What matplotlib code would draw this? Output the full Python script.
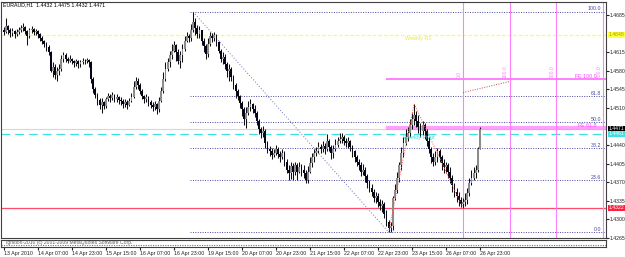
import numpy as np
import matplotlib.pyplot as plt
from matplotlib.transforms import blended_transform_factory

# EURAUD H1, 13 Apr 2010 15:00 .. 26 Apr 2010 23:00, prices in points (1e-4)
first_open = 14656
close_pts = [
    14653, 14664, 14656, 14651, 14655, 14649, 14653, 14656, 14660, 14662,
    14655, 14645, 14656, 14658, 14653, 14655, 14649, 14641, 14636, 14630,
    14624, 14615, 14580, 14588, 14573, 14580, 14584, 14603, 14609, 14603,
    14599, 14603, 14598, 14594, 14598, 14592, 14596, 14599, 14598, 14601,
    14596, 14565, 14546, 14535, 14525, 14516, 14522, 14514, 14527, 14533,
    14529, 14535, 14527, 14531, 14525, 14523, 14518, 14522, 14516, 14523,
    14531, 14550, 14561, 14554, 14542, 14533, 14527, 14531, 14522, 14516,
    14512, 14518, 14508, 14523, 14542, 14565, 14584, 14596, 14609, 14618,
    14628, 14615, 14599, 14609, 14622, 14637, 14645, 14641, 14656, 14672,
    14660, 14649, 14656, 14637, 14626, 14611, 14630, 14645, 14641, 14647,
    14634, 14618, 14603, 14607, 14592, 14580, 14584, 14569, 14554, 14542,
    14533, 14520, 14508, 14489, 14501, 14512, 14518, 14508, 14501, 14485,
    14470, 14463, 14466, 14444, 14432, 14428, 14421, 14425, 14432, 14423,
    14417, 14425, 14409, 14394, 14387, 14400, 14390, 14402, 14390, 14398,
    14394, 14387, 14375, 14390, 14406, 14417, 14425, 14428, 14436, 14432,
    14438, 14432, 14447, 14436, 14425, 14432, 14440, 14447, 14451, 14455,
    14447, 14444, 14447, 14436, 14428, 14417, 14409, 14402, 14390, 14394,
    14381, 14368, 14360, 14352, 14341, 14345, 14333, 14326, 14330, 14310,
    14295, 14284, 14288, 14341, 14356, 14379, 14402, 14425, 14444, 14455,
    14463, 14478, 14489, 14497, 14485, 14474, 14466, 14478, 14466, 14447,
    14432, 14417, 14409, 14417, 14428, 14417, 14406, 14398, 14402, 14390,
    14379, 14364, 14352, 14345, 14337, 14330, 14333, 14337, 14349, 14368,
    14379, 14387, 14394, 14432, 14471,
]
high_pts = [
    14662, 14679, 14666, 14660, 14660, 14656, 14658, 14662, 14666, 14670,
    14664, 14656, 14660, 14664, 14660, 14658, 14656, 14651, 14645, 14639,
    14634, 14628, 14618, 14596, 14592, 14588, 14592, 14609, 14615, 14613,
    14607, 14609, 14605, 14601, 14603, 14601, 14601, 14605, 14603, 14605,
    14603, 14599, 14569, 14550, 14539, 14529, 14529, 14523, 14531, 14539,
    14537, 14541, 14537, 14537, 14533, 14531, 14527, 14527, 14525, 14529,
    14539, 14561, 14569, 14567, 14558, 14546, 14535, 14537, 14533, 14525,
    14522, 14523, 14520, 14531, 14550, 14577, 14596, 14605, 14618, 14630,
    14637, 14630, 14622, 14618, 14630, 14645, 14653, 14649, 14668, 14691,
    14679, 14666, 14664, 14656, 14641, 14630, 14641, 14653, 14651, 14653,
    14649, 14637, 14622, 14615, 14611, 14596, 14592, 14588, 14573, 14558,
    14546, 14535, 14523, 14512, 14512, 14523, 14527, 14520, 14516, 14504,
    14489, 14474, 14476, 14470, 14447, 14438, 14434, 14432, 14440, 14436,
    14428, 14432, 14428, 14413, 14402, 14409, 14406, 14409, 14406, 14408,
    14404, 14402, 14394, 14400, 14417, 14425, 14432, 14436, 14446, 14442,
    14447, 14444, 14461, 14451, 14440, 14440, 14451, 14455, 14463, 14463,
    14459, 14453, 14455, 14449, 14440, 14430, 14421, 14413, 14409, 14404,
    14398, 14385, 14375, 14366, 14358, 14352, 14349, 14339, 14337, 14333,
    14318, 14299, 14295, 14345, 14366, 14390, 14409, 14436, 14455, 14470,
    14474, 14489, 14501, 14518, 14504, 14497, 14482, 14485, 14482, 14470,
    14455, 14436, 14425, 14428, 14434, 14432, 14421, 14413, 14409, 14406,
    14398, 14383, 14368, 14360, 14352, 14343, 14341, 14349, 14360, 14379,
    14394, 14398, 14402, 14436, 14475,
]
low_pts = [
    14647, 14651, 14649, 14643, 14645, 14641, 14645, 14649, 14653, 14655,
    14649, 14628, 14641, 14651, 14647, 14647, 14641, 14636, 14630, 14624,
    14618, 14609, 14577, 14569, 14565, 14561, 14573, 14580, 14596, 14596,
    14594, 14596, 14592, 14588, 14590, 14586, 14588, 14592, 14592, 14594,
    14588, 14558, 14539, 14529, 14516, 14508, 14501, 14508, 14510, 14523,
    14522, 14525, 14522, 14522, 14518, 14516, 14510, 14512, 14508, 14514,
    14522, 14529, 14546, 14546, 14537, 14527, 14520, 14522, 14514, 14510,
    14504, 14506, 14499, 14502, 14522, 14539, 14561, 14580, 14588, 14603,
    14615, 14599, 14592, 14586, 14596, 14618, 14634, 14634, 14637, 14653,
    14647, 14641, 14641, 14628, 14615, 14603, 14607, 14626, 14634, 14637,
    14626, 14613, 14596, 14592, 14584, 14569, 14561, 14561, 14546, 14529,
    14525, 14510, 14495, 14478, 14472, 14497, 14504, 14501, 14493, 14478,
    14461, 14453, 14455, 14434, 14425, 14419, 14413, 14417, 14421, 14415,
    14409, 14413, 14400, 14387, 14375, 14377, 14375, 14383, 14375, 14387,
    14381, 14379, 14368, 14368, 14387, 14398, 14409, 14419, 14425, 14425,
    14427, 14423, 14428, 14428, 14413, 14415, 14428, 14436, 14444, 14444,
    14440, 14436, 14434, 14428, 14417, 14409, 14400, 14394, 14381, 14383,
    14371, 14360, 14352, 14345, 14333, 14331, 14324, 14318, 14314, 14303,
    14288, 14276, 14276, 14280, 14337, 14349, 14371, 14394, 14417, 14440,
    14447, 14455, 14470, 14478, 14474, 14463, 14455, 14459, 14451, 14438,
    14425, 14406, 14400, 14402, 14409, 14409, 14394, 14387, 14387, 14379,
    14368, 14352, 14343, 14333, 14326, 14324, 14322, 14326, 14330, 14345,
    14364, 14375, 14379, 14390, 14432,
]

date_labels = ['13 Apr 2010', '14 Apr 07:00', '14 Apr 23:00', '15 Apr 15:00',
               '16 Apr 07:00', '16 Apr 23:00', '19 Apr 15:00', '20 Apr 07:00',
               '20 Apr 23:00', '21 Apr 15:00', '22 Apr 07:00', '22 Apr 23:00',
               '23 Apr 15:00', '26 Apr 07:00', '26 Apr 23:00']
date_bars = [0, 16, 32, 48, 64, 80, 96, 112, 128, 144, 160, 176, 192, 208, 224]

price_ticks = [1.4685, 1.4615, 1.4580, 1.4545, 1.4510, 1.4440, 1.4405,
               1.4370, 1.4335, 1.4300, 1.4265]

# fibo retracement
fib_high, fib_low = 1.4691, 1.4276
fib_high_bar, fib_low_bar = 89, 181
fib_levels = [0.0, 23.6, 38.2, 50.0, 61.8, 100.0]

# fibo expansion points A, B, C
fe_bars = [181, 193, 216]
fe_prices = [1.4276, 1.4518, 1.4322]
fe_levels = [61.8, 100.0]
tz_bars = [216, 238, 260, 282]
tz_labels = ['0.0', '100.0', '200.0', '300.0']
tz_trend = ([216, 238], [1.4539, 1.4560])

weekly_r1 = 1.4648
weekly_pivot = 1.4461
support = 1.4322
bid = 1.4471

W, H = 625, 257
plt.rcParams['font.family'] = 'Liberation Sans'
fig = plt.figure(figsize=(W / 100, H / 100), dpi=100)
ax = fig.add_axes([1 / W, 1 - 238 / H, 605 / W, 236 / H])
xmax = 283.3
ax.set_xlim(-1.41, xmax)
ax.set_ylim(1.42661, 1.47097)

c = np.array(close_pts) / 1e4
h = np.array(high_pts) / 1e4
l = np.array(low_pts) / 1e4
o = np.concatenate([[first_open / 1e4], c[:-1]])
x = np.arange(len(c))

# horizontal levels
ax.axhline(bid, color='#d4d4e6', lw=0.8, zorder=1)
ax.axhline(weekly_r1, color='#ffff40', lw=0.9, dashes=(3, 1.5), zorder=1)
ax.axhline(weekly_pivot, color='#40e0e0', lw=0.9, dashes=(7, 4), zorder=1)
ax.axhline(support, color='#ff4a6a', lw=0.9, zorder=1)
ax.text(188.5, weekly_r1 - 0.0002, 'Weekly R1', color='#e8e840', fontsize=4, va='top')
ax.text(188.0, weekly_pivot - 0.0001, 'Weekly Pivot', color='#40d8d8', fontsize=4, va='top')

# fibo retracement
fib_col = '#4848a0'
for lev in fib_levels:
    p = fib_low + (fib_high - fib_low) * lev / 100
    ax.hlines(p, 87.5, xmax, colors=fib_col, lw=0.7, linestyles=(0, (1, 1.5)), zorder=1)
    ax.text(281.0, p + 0.0001, f'{lev:.1f}', color=fib_col, fontsize=3.8,
            ha='right', va='bottom')
ax.plot([fib_high_bar, fib_low_bar], [fib_high, fib_low], color='#7070b8',
        lw=0.7, ls=(0, (1, 2)), zorder=1)

# fibo expansion
pink = '#ff80ff'
a, b, cc = fe_prices
for lev in fe_levels:
    p = cc + (b - a) * lev / 100
    ax.hlines(p, 180, xmax, colors=pink, lw=1.4 if lev == 100 else 3.0,
              alpha=1.0 if lev == 100 else 0.75, zorder=1)
    ax.text(279.0, p + 0.0001, f'FE {lev:.1f}', color='#ff40ff', fontsize=3.8,
            ha='right', va='bottom')
    if lev == 100:
        fe100 = p
ax.plot(fe_bars, fe_prices, color='#ff5050', lw=0.7, ls=(0, (1, 1.5)), zorder=3)
for tb, tl in zip(tz_bars, tz_labels):
    ax.axvline(tb, color=pink, lw=0.8, zorder=1)
    ax.text(tb - 0.8, fe100 + 0.0002, tl, color=pink, fontsize=3.6, rotation=90,
            ha='right', va='bottom')
ax.plot(tz_trend[0], tz_trend[1], color='#c05050', lw=0.7, ls=(0, (1, 1.5)), zorder=1)

# candles
bull = c >= o
ax.vlines(x, l, h, color='#101010', lw=0.75, zorder=2)
ax.bar(x, np.maximum(np.abs(c - o), 0.00008), bottom=np.minimum(o, c), width=0.9,
       color=np.where(bull, '#8c8c8c', '#05051a'), linewidth=0, zorder=2.5)

# axes styling
for s in ax.spines.values():
    s.set_color('#404040')
    s.set_linewidth(0.8)
ax.set_xticks([])
ax.yaxis.tick_right()
ax.set_yticks(price_ticks)
ax.set_yticklabels([f'{p:.4f}' for p in price_ticks])
ax.tick_params(axis='y', labelsize=3.7, length=2, pad=0.8, colors='#202020')

tr = blended_transform_factory(ax.transAxes, ax.transData)
for p, fc, tc in [(weekly_r1, '#ffff40', '#a0a000'), (bid, 'black', 'white'),
                  (weekly_pivot, '#40e0e0', 'white'), (support, '#ff2040', 'white')]:
    ax.text(1.005, p, f'{p:.4f}', transform=tr, fontsize=3.7, color=tc, va='center',
            ha='left', clip_on=False, zorder=5,
            bbox=dict(boxstyle='square,pad=0.12', fc=fc, ec='none'))

fig.text(3 / W, 1 - 5 / H, 'EURAUD,H1  1.4432 1.4475 1.4432 1.4471',
         fontsize=3.8, va='center', ha='left')

# sub window with dates
ax2 = fig.add_axes([1 / W, 1 - 247 / H, 605 / W, 7 / H])
ax2.set_xlim(-1.41, xmax)
ax2.set_ylim(0, 1)
ax2.axhline(0.35, color='#b040d0', lw=0.8, ls=(0, (1, 1.2)))
ax2.text(1, 0.6, 'Ignition-2010 (c) 2001-2009 MetaQuotes Software Corp.',
         fontsize=3.6, color='#606060', va='center')
ax2.set_yticks([])
ax2.set_xticks(date_bars)
ax2.set_xticklabels(date_labels)
for lab in ax2.get_xticklabels():
    lab.set_ha('left')
ax2.tick_params(axis='x', labelsize=3.8, length=2, pad=1, colors='#202020')
for s in ax2.spines.values():
    s.set_color('#404040')
    s.set_linewidth(0.8)

fig.savefig('out.png', dpi=100)
